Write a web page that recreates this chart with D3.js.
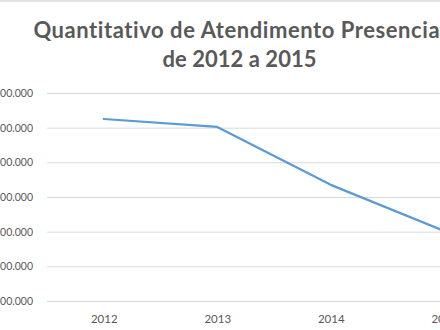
<!DOCTYPE html>
<html>
<head>
<meta charset="utf-8">
<script src="https://cdn.jsdelivr.net/npm/d3@7"></script>
<style>
  html, body { margin: 0; padding: 0; background: #fff; overflow: hidden; }
  svg { display: block; }
</style>
</head>
<body>
<svg id="chart" width="440" height="330"></svg>
<script>
// Atendimentos presenciais por ano
const years = ["2012", "2013", "2014", "2015"];
const atendimentos = [7250000, 7020000, 5350000, 4020000];
const yTicks = [2000000, 3000000, 4000000, 5000000, 6000000, 7000000, 8000000];
const titleLines = ["Quantitativo de Atendimento Presencial", "de 2012 a 2015"];

const svg = d3.select("#chart");
const fontFamily = "Lato, 'Open Sans', sans-serif";
const textColor = "#595959";

// plot area (continues past the right edge of the frame)
const plot = { left: 47, right: 501, top: 93, bottom: 301 };

const x = d3.scalePoint()
  .domain(years)
  .range([plot.left, plot.right])
  .padding(0.5);

const y = d3.scaleLinear()
  .domain([yTicks[0], yTicks[yTicks.length - 1]])
  .range([plot.bottom, plot.top]);

const fmt = v => d3.format(",")(v).replace(/,/g, ".");

// outer border of the chart area
svg.append("rect")
  .attr("x", -20).attr("y", 1)
  .attr("width", 600).attr("height", 400)
  .attr("fill", "none")
  .attr("stroke", "#d9d9d9")
  .attr("stroke-width", 1.5);

// title: two centred lines, widened with letter spacing to the title box width
const titleCenter = 239.5;
const titleWidths = [413, 154];
const titleBaselines = [38, 67];
titleLines.forEach((txt, i) => {
  const t = svg.append("text")
    .attr("x", titleCenter)
    .attr("y", titleBaselines[i])
    .attr("text-anchor", "middle")
    .attr("fill", textColor)
    .attr("font-family", fontFamily)
    .attr("font-weight", "bold")
    .attr("font-size", 22)
    .text(txt);
  const w = t.node().getComputedTextLength();
  const ls = Math.max(0, (titleWidths[i] - w) / (txt.length - 1));
  t.attr("letter-spacing", ls);
  // letter-spacing also trails the last glyph; recentre
  t.attr("x", titleCenter + ls / 2);
});

// y axis: gridlines + labels
const yAxis = d3.axisLeft(y)
  .tickValues(yTicks)
  .tickSize(-(plot.right - plot.left))
  .tickPadding(14)
  .tickFormat(fmt);

const gy = svg.append("g")
  .attr("transform", `translate(${plot.left},0)`)
  .call(yAxis);
gy.select(".domain").remove();
gy.selectAll(".tick line")
  .attr("stroke", "#d9d9d9")
  .attr("stroke-width", 1);
gy.selectAll(".tick text")
  .attr("fill", textColor)
  .attr("font-family", fontFamily)
  .attr("font-size", 10.5);

// x axis labels
const xAxis = d3.axisBottom(x).tickSize(0).tickPadding(0);
const gx = svg.append("g")
  .attr("transform", `translate(0,${plot.bottom + 14})`)
  .call(xAxis);
gx.select(".domain").remove();
gx.selectAll(".tick text")
  .attr("fill", textColor)
  .attr("font-family", fontFamily)
  .attr("font-size", 11.5);

// series line
const line = d3.line()
  .x((d, i) => x(years[i]))
  .y(d => y(d));

svg.append("path")
  .datum(atendimentos)
  .attr("d", line)
  .attr("fill", "none")
  .attr("stroke", "#5b9bd5")
  .attr("stroke-width", 2.25)
  .attr("stroke-linejoin", "round")
  .attr("stroke-linecap", "round");
</script>
</body>
</html>
